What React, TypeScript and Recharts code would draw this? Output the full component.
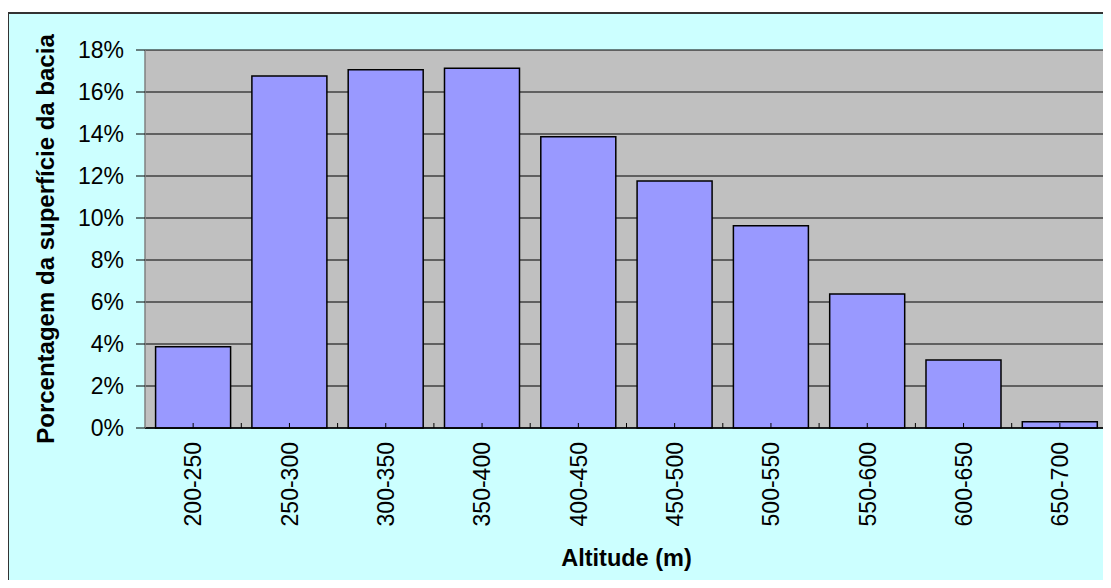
import React from "react";
import { BarChart, Bar, XAxis, YAxis, CartesianGrid, Customized } from "recharts";

const categories = ["200-250", "250-300", "300-350", "350-400", "400-450", "450-500", "500-550", "550-600", "600-650", "650-700"];
const percentages = [3.87, 16.76, 17.06, 17.13, 13.87, 11.76, 9.63, 6.38, 3.24, 0.3];
const yTicks = [0, 2, 4, 6, 8, 10, 12, 14, 16, 18];
const xTitle = "Altitude (m)";
const yTitle = "Porcentagem da superfície da bacia";

const data = categories.map((c, i) => ({ cat: c, value: percentages[i] }));

const FONT = "'Liberation Sans', Arial, sans-serif";

const XTick = (props: any) => {
  const { x, y, payload, index, width } = props;
  const step = width / categories.length;
  return (
    <g>
      <line x1={x} y1={y} x2={x} y2={y - 5} stroke="#000" strokeWidth={1} />
      {index > 0 && (
        <line x1={x - step / 2} y1={y} x2={x - step / 2} y2={y - 5} stroke="#000" strokeWidth={1} />
      )}
      <text
        x={x}
        y={y + 14}
        transform={`rotate(-90 ${x} ${y + 14})`}
        textAnchor="end"
        dy="0.36em"
        fontFamily={FONT}
        fontSize={23}
        fill="#000"
      >
        {payload.value}
      </text>
    </g>
  );
};

const YTitle = (props: any) => {
  const { viewBox } = props;
  const cx = viewBox.x + 45;
  const cy = viewBox.y + viewBox.height / 2;
  return (
    <text
      x={cx}
      y={cy}
      transform={`rotate(-90 ${cx} ${cy})`}
      textAnchor="middle"
      dy="0.36em"
      fontFamily={FONT}
      fontSize={24}
      fontWeight="bold"
      fill="#000"
    >
      {yTitle}
    </text>
  );
};

const XTitle = (props: any) => {
  const { viewBox } = props;
  return (
    <text
      x={viewBox.x + viewBox.width / 2}
      y={viewBox.y + 138}
      textAnchor="middle"
      fontFamily={FONT}
      fontSize={23.5}
      fontWeight="bold"
      fill="#000"
    >
      {xTitle}
    </text>
  );
};

const PlotBorder = (props: any) => {
  const off = props.offset;
  if (!off) return null;
  const { left, top, width } = off;
  return (
    <g>
      <line x1={left} y1={top} x2={left + width} y2={top} stroke="#808080" strokeWidth={1.5} />
      <line x1={left + width} y1={top} x2={left + width} y2={top + off.height} stroke="#808080" strokeWidth={1.5} />
    </g>
  );
};

export default function App() {
  return (
    <div style={{ position: "relative", width: 1111, height: 588, background: "#fff", overflow: "hidden", margin: "-8px" }}>
      <div
        style={{
          position: "absolute",
          left: 7,
          top: 12,
          width: 1200,
          height: 700,
          background: "#CCFFFF",
          borderLeft: "2px solid #333",
          borderTop: "2px solid #333",
        }}
      />
      <div style={{ position: "absolute", left: 0, top: 0 }}>
        <BarChart
          width={1111}
          height={588}
          data={data}
          margin={{ top: 50, right: 3, bottom: 0, left: 0 }}
          barCategoryGap="11%"
        >
          <CartesianGrid fill="#C0C0C0" vertical={false} stroke="#000" strokeWidth={1} horizontalValues={yTicks} />
          <XAxis
            dataKey="cat"
            height={160}
            interval={0}
            tickSize={0}
            tickMargin={0}
            tick={<XTick />}
            axisLine={{ stroke: "#000", strokeWidth: 1.5 }}
            tickLine={false}
            label={<XTitle />}
          />
          <YAxis
            width={145}
            domain={[0, 18]}
            ticks={yTicks}
            interval={0}
            tickFormatter={(v: number) => `${v}%`}
            tickSize={9}
            tickMargin={12}
            tickLine={{ stroke: "#000" }}
            axisLine={{ stroke: "#808080", strokeWidth: 1.5 }}
            tick={{ fontFamily: FONT, fontSize: 23, fill: "#000" }}
            label={<YTitle />}
          />
          <Bar dataKey="value" fill="#9999FF" stroke="#000" strokeWidth={1.5} isAnimationActive={false} />
          <Customized component={PlotBorder} />
        </BarChart>
      </div>
    </div>
  );
}
